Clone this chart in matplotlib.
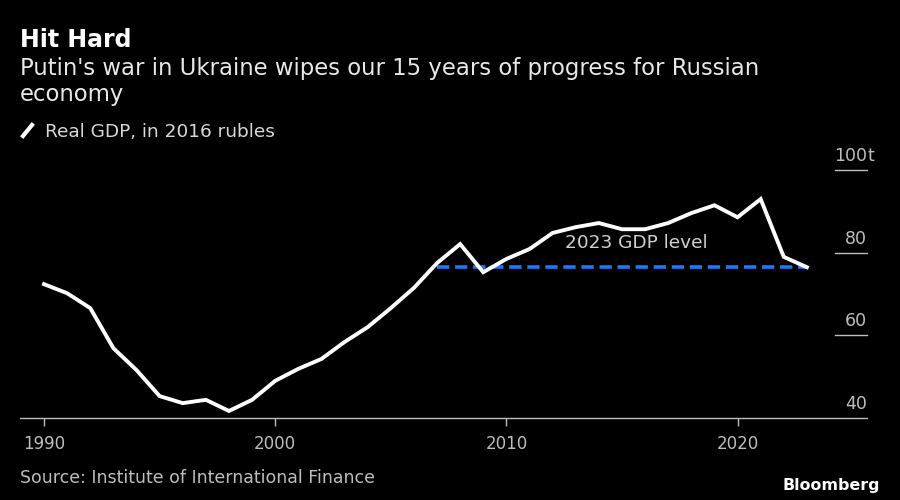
import matplotlib.pyplot as plt
from matplotlib.transforms import blended_transform_factory, offset_copy

years = list(range(1990, 2024))
gdp = [72.4, 70.2, 66.6, 56.9, 51.6, 45.3, 43.6, 44.4, 41.7, 44.4,
       49.0, 51.9, 54.3, 58.4, 62.0, 66.6, 71.5, 77.5, 82.1, 75.3,
       78.5, 80.9, 84.8, 86.2, 87.2, 85.7, 85.7, 87.2, 89.6, 91.5,
       88.6, 93.0, 79.0, 76.5]
level_2023 = 76.5
y_ticks = [40, 60, 80, 100]
y_labels = ["40", "60", "80", "100"]
x_ticks = [1990, 2000, 2010, 2020]

bg = "black"
grey = "#bdbdbd"
blue = "#1e78ff"

fig = plt.figure(figsize=(9, 5), dpi=100, facecolor=bg)
ax = fig.add_axes([20 / 900, 1 - 418 / 500, 847 / 900, 0.537])
ax.set_facecolor(bg)

ax.plot(years, gdp, color="white", lw=2.8, solid_joinstyle="miter", zorder=3)
ax.plot([2007, 2023], [level_2023, level_2023], color=blue, lw=2.6,
        ls=(0, (3.4, 1.6)), zorder=2)
ax.text(2015.6, 80.2, "2023 GDP level", color="#d0d0d0", fontsize=13.3,
        ha="center", va="bottom")

ax.set_xlim(1988.96, 2025.6)
ax.set_ylim(40, 105)

# short grid stubs and labels on the right
tr = blended_transform_factory(ax.transAxes, ax.transData)
for v, lab in zip(y_ticks, y_labels):
    if v > 40:
        ax.plot([0.962, 1.0], [v, v], color=grey, lw=1, transform=tr,
                clip_on=False)
    ax.text(1.0, v, lab, color=grey, fontsize=12.5, ha="right", va="bottom",
            transform=offset_copy(tr, fig=fig, y=5, units="dots"))
ax.text(1.0, 100, "t", color=grey, fontsize=12.5, ha="left", va="bottom",
        transform=offset_copy(tr, fig=fig, x=1, y=5, units="dots"))

for s in ["top", "right", "left"]:
    ax.spines[s].set_visible(False)
ax.spines["bottom"].set_color(grey)
ax.spines["bottom"].set_linewidth(1)
ax.set_yticks([])
ax.set_xticks(x_ticks)
ax.set_xticklabels([str(x) for x in x_ticks])
ax.tick_params(axis="x", colors=grey, labelsize=12, length=6, width=1,
               pad=6)

fig.text(20 / 900, 1 - 47 / 500, "Hit Hard", color="white", fontsize=17,
         fontweight="bold", ha="left", va="baseline")
fig.text(20 / 900, 1 - 75 / 500,
         "Putin's war in Ukraine wipes our 15 years of progress for Russian",
         color="#e8e8e8", fontsize=16.4, ha="left", va="baseline")
fig.text(20 / 900, 1 - 101 / 500, "economy", color="#e8e8e8", fontsize=16.4,
         ha="left", va="baseline")

# legend
fig.add_artist(plt.Line2D([23 / 900, 32 / 900], [1 - 136 / 500, 1 - 125 / 500],
                          color="white", lw=3, transform=fig.transFigure))
fig.text(45 / 900, 1 - 137 / 500, "Real GDP, in 2016 rubles", color="#d8d8d8",
         fontsize=13.3, ha="left", va="baseline")

fig.text(20 / 900, 1 - 483 / 500, "Source: Institute of International Finance",
         color=grey, fontsize=12.5, ha="left", va="baseline")
fig.text(880 / 900, 1 - 490 / 500, "Bloomberg", color="white", fontsize=11.4,
         fontweight="bold", ha="right", va="baseline")

fig.savefig("out.png", dpi=100, facecolor=bg)
